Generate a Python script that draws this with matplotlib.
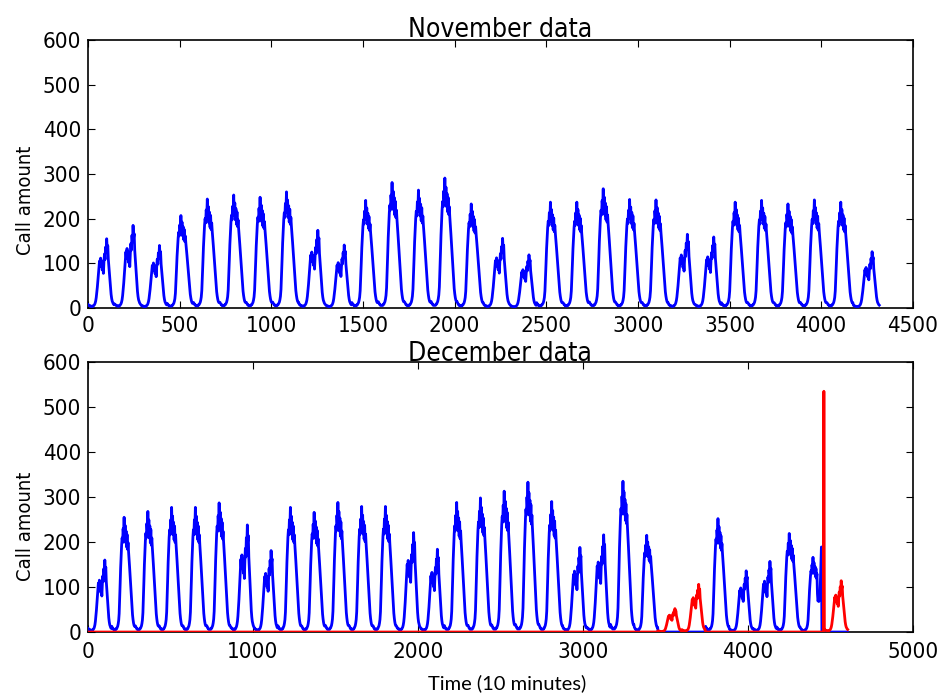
import numpy as np
import matplotlib
matplotlib.use("Agg")
import matplotlib.pyplot as plt

# ---------------- data ----------------
STEPS_PER_SLOT = 3          # one profile slot = 3 ten-minute samples (30 min)
SLOTS_PER_DAY = 48

# typical weekday shape (fraction of the day's peak), one value per 30 min
weekday_profile = [0.05, 0.04, 0.03, 0.03, 0.02, 0.02, 0.02, 0.02, 0.02, 0.03,
                   0.03, 0.04, 0.05, 0.07, 0.10, 0.16, 0.28, 0.42, 0.56, 0.66,
                   0.76, 0.82, 0.78, 0.90, 0.84, 1.00, 0.82, 0.93, 0.78, 0.88,
                   0.74, 0.85, 0.72, 0.78, 0.70, 0.64, 0.57, 0.50, 0.42, 0.35,
                   0.28, 0.21, 0.15, 0.11, 0.08, 0.06, 0.05, 0.05]
# typical weekend / holiday shape (double hump)
weekend_profile = [0.05, 0.04, 0.04, 0.03, 0.03, 0.03, 0.02, 0.02, 0.02, 0.03,
                   0.03, 0.04, 0.05, 0.07, 0.10, 0.15, 0.22, 0.30, 0.40, 0.50,
                   0.58, 0.68, 0.60, 0.72, 0.62, 0.68, 0.55, 0.62, 0.50, 0.66,
                   0.78, 0.70, 0.88, 0.80, 1.00, 0.85, 0.90, 0.70, 0.60, 0.48,
                   0.38, 0.28, 0.20, 0.14, 0.10, 0.08, 0.06, 0.05]

nov_peaks = [155, 185, 140, 207, 244, 253, 248, 260, 174, 141,
             241, 281, 264, 291, 233, 156, 119, 237, 237, 267,
             243, 242, 165, 159, 237, 241, 233, 242, 237, 126]
nov_weekend = [0, 1, 2, 8, 9, 15, 16, 22, 23, 29]

dec_blue_peaks = [160, 255, 268, 277, 277, 287, 238, 181, 277, 266,
                  288, 279, 279, 221, 184, 288, 298, 313, 333, 290,
                  188, 216, 335, 215, 0, 0, 252, 136, 157, 219,
                  166, 0]
dec_red_peaks = [0, 0, 0, 0, 0, 0, 0, 0, 0, 0,
                 0, 0, 0, 0, 0, 0, 0, 0, 0, 0,
                 0, 0, 0, 0, 52, 106, 0, 0, 0, 0,
                 0, 114]
dec_weekend = [0, 6, 7, 13, 14, 20, 21, 24, 25, 27, 28, 31]
# last slots (34..47) of Dec day 30 of the blue series
dec_day30_tail = [85, 69, 72, 68, 80, 75, 110, 150, 189, 0, 0, 0, 0, 0]
spike_time = 4461           # red spike (10-minute index)
spike_value = 535

nov_xticks = [0, 500, 1000, 1500, 2000, 2500, 3000, 3500, 4000, 4500]
dec_xticks = [0, 1000, 2000, 3000, 4000, 5000]
yticks = [0, 100, 200, 300, 400, 500, 600]


def build(peaks, weekend_days):
    rows = []
    for d, p in enumerate(peaks):
        prof = weekend_profile if d in weekend_days else weekday_profile
        rows.append(np.array(prof) * p)
    return np.concatenate(rows)


nov = build(nov_peaks, nov_weekend)
dec_blue = build(dec_blue_peaks, dec_weekend)
dec_blue[30 * SLOTS_PER_DAY + 34:31 * SLOTS_PER_DAY] = dec_day30_tail
dec_red = build(dec_red_peaks, dec_weekend)
dec_red[spike_time // STEPS_PER_SLOT] = spike_value

t_nov = np.arange(len(nov)) * STEPS_PER_SLOT
t_dec = np.arange(len(dec_blue)) * STEPS_PER_SLOT

# ---------------- figure ----------------
plt.rcParams["font.family"] = ["DejaVu Sans"]
plt.rcParams["font.stretch"] = "condensed"

fig = plt.figure(figsize=(9.42, 6.93), dpi=100)
ax1 = fig.add_axes([0.0934, 0.5556, 0.8756, 0.3866])
ax2 = fig.add_axes([0.0934, 0.0880, 0.8756, 0.3896])

ax1.plot(t_nov, nov, color=(0, 0, 1), lw=2.0, zorder=3)
ax1.set_xlim(0, 4500)
ax1.set_ylim(0, 600)
ax1.set_xticks(nov_xticks)
ax1.set_yticks(yticks)
ax1.set_title("November data", fontsize=19, pad=2)
ax1.set_ylabel("Call amount", fontsize=14.5)
ax1.yaxis.set_label_coords(-0.064, 0.40)

ax2.plot(t_dec, dec_blue, color=(0, 0, 1), lw=2.0, zorder=3)
ax2.plot(t_dec, dec_red, color=(1, 0, 0), lw=2.0, zorder=3)
ax2.set_xlim(0, 5000)
ax2.set_ylim(0, 600)
ax2.set_xticks(dec_xticks)
ax2.set_yticks(yticks)
ax2.set_title("December data", fontsize=19, pad=0.5)
ax2.set_ylabel("Call amount", fontsize=14.5)
ax2.yaxis.set_label_coords(-0.064, 0.39)
ax2.set_xlabel("Time (10 minutes)", fontsize=14.5, family=["Lato", "DejaVu Sans"],
               stretch="normal")
ax2.xaxis.set_label_coords(0.508, -0.156)

for ax in (ax1, ax2):
    ax.tick_params(direction="in", top=True, right=True, length=5,
                   labelsize=16, width=0.8)
    ax.tick_params(axis="y", pad=5)
ax1.tick_params(axis="x", pad=5.5)
ax2.tick_params(axis="x", pad=7)
for ax in (ax1, ax2):
    for s in ax.spines.values():
        s.set_linewidth(1.2)

fig.savefig("out.png", dpi=100)
